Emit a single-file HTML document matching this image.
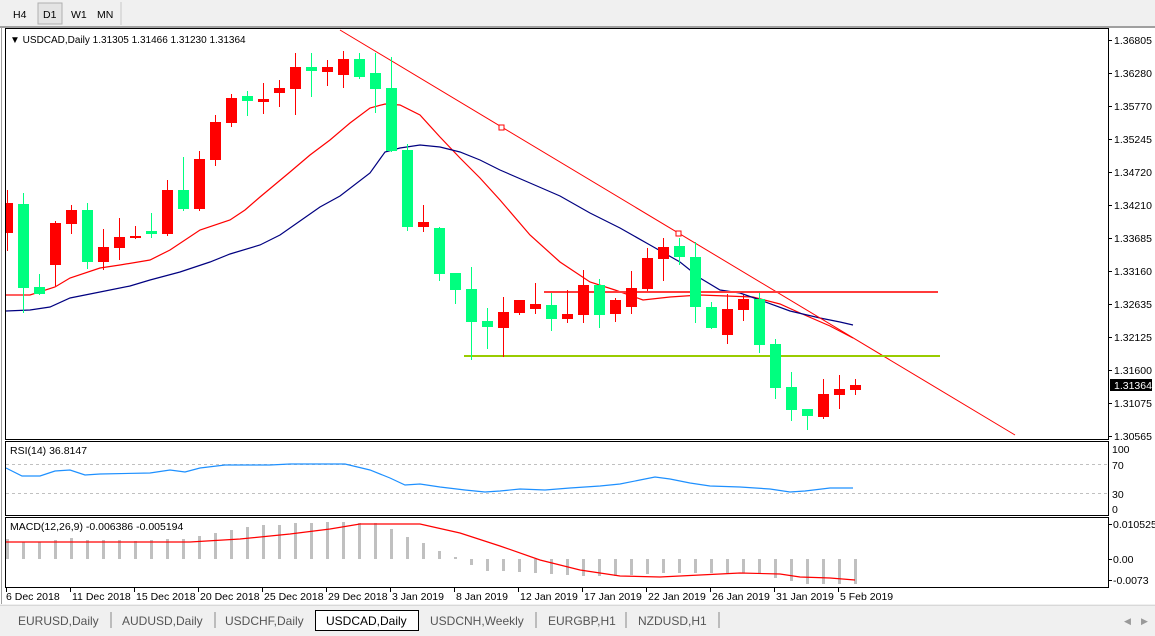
<!DOCTYPE html>
<html><head><meta charset="utf-8"><style>
html,body{margin:0;padding:0;width:1155px;height:636px;overflow:hidden;background:#fff;font-family:"Liberation Sans",sans-serif}
svg text{font-family:"Liberation Sans",sans-serif;font-size:10.5px;fill:#000}
</style></head><body>
<svg id="s" width="1155" height="636" xmlns="http://www.w3.org/2000/svg" shape-rendering="crispEdges">
<defs><clipPath id="cp"><rect x="6" y="29" width="1102" height="560"/></clipPath></defs>
<rect x="0" y="0" width="1155" height="27" fill="#f0f0f0"/>
<rect x="38" y="3" width="24" height="21" fill="#e4e4e4" stroke="#b0b0b0"/>
<line x1="121" y1="2" x2="121" y2="25" stroke="#c8c8c8"/>
<text x="13" y="18">H4</text><text x="43" y="18">D1</text><text x="71" y="18">W1</text><text x="97" y="18">MN</text>
<rect x="0" y="26" width="1155" height="2" fill="#a0a0a0"/>
<line x1="1.5" y1="28" x2="1.5" y2="604" stroke="#a0a0a0"/>
<rect x="5.5" y="28.5" width="1103" height="411" fill="#fff" stroke="#000"/>
<rect x="5.5" y="441.5" width="1103" height="74" fill="#fff" stroke="#000"/>
<rect x="5.5" y="517.5" width="1103" height="70" fill="#fff" stroke="#000"/>
<g id="g" clip-path="url(#cp)"></g>
<g id="g2"></g>
<text x="10" y="43" style="font-size:10px">▼ USDCAD,Daily  1.31305 1.31466 1.31230 1.31364</text>
<text x="10" y="454">RSI(14) 36.8147</text>
<text x="10" y="530">MACD(12,26,9) -0.006386 -0.005194</text>
<rect x="0" y="604" width="1155" height="32" fill="#f0f0f0"/>
<rect x="0" y="605" width="1155" height="1" fill="#d8d8d8"/>
<rect x="315.5" y="610.5" width="103" height="20" fill="#fff" stroke="#000"/>
<text x="18" y="625" style="font-size:12px;fill:#555">EURUSD,Daily</text>
<text x="122" y="625" style="font-size:12px;fill:#555">AUDUSD,Daily</text>
<text x="225" y="625" style="font-size:12px;fill:#555">USDCHF,Daily</text>
<text x="326" y="625" style="font-size:12px;fill:#000">USDCAD,Daily</text>
<text x="430" y="625" style="font-size:12px;fill:#555">USDCNH,Weekly</text>
<text x="548" y="625" style="font-size:12px;fill:#555">EURGBP,H1</text>
<text x="638" y="625" style="font-size:12px;fill:#555">NZDUSD,H1</text>
<g stroke="#888"><line x1="111" y1="612" x2="111" y2="628"/><line x1="215" y1="612" x2="215" y2="628"/><line x1="536" y1="612" x2="536" y2="628"/><line x1="626" y1="612" x2="626" y2="628"/><line x1="719" y1="612" x2="719" y2="628"/></g>
<text x="1124" y="624" style="fill:#999;font-size:9px">◀</text><text x="1141" y="624" style="fill:#999;font-size:9px">▶</text>
</svg>
<script>
var g=document.getElementById('g'),h='';
function L(x1,y1,x2,y2,c,w,e){h+='<line x1="'+x1+'" y1="'+y1+'" x2="'+x2+'" y2="'+y2+'" stroke="'+c+'" stroke-width="'+(w||1)+'" '+(e||'')+'/>';}
function P(pts,c,w){h+='<polyline fill="none" stroke="'+c+'" stroke-width="'+(w||1)+'" shape-rendering="auto" points="'+pts.map(function(p){return p.join(',')}).join(' ')+'"/>';}
var C=[['r',203,233,190,250],['g',204,288,193,312],['g',287,294,274,294],['r',223,265,221,285],['r',210,224,205,233],['g',210,262,203,268],['r',247,262,229,269],['r',237,248,218,259],['r',236,238,226,238],['g',231,234,213,237],['r',190,234,180,235],['g',190,209,157,210],['r',159,209,151,210],['r',122,160,115,165],['r',98,123,94,126],['g',96,101,91,115],['r',99,102,83,113],['r',88,93,80,106],['r',67,89,53,114],['g',67,71,53,96],['r',67,72,60,85],['r',59,75,51,87],['g',59,77,53,78],['g',73,89,53,112],['g',88,151,57,151],['g',150,227,144,230],['r',222,227,205,231],['g',228,274,227,280],['g',273,290,273,303],['g',289,322,267,359],['g',321,327,308,348],['r',312,328,297,356],['r',300,313,300,314],['r',304,309,283,313],['g',305,319,293,330],['r',314,319,290,322],['r',285,315,270,322],['g',285,315,279,327],['r',300,314,298,321],['r',288,307,271,313],['r',258,289,248,290],['r',247,259,238,280],['g',246,257,238,264],['g',257,307,242,322],['g',307,328,302,328],['r',309,335,294,343],['r',299,310,295,320],['g',299,345,293,352],['g',344,388,339,398],['g',387,410,372,420],['g',409,416,409,429],['r',394,417,379,418],['r',389,395,375,408],['r',385,390,379,394]];
var M=[539,542,542,540,538,540,540,540,541,540,539,539,536,533,530,527,525,525,523,523,522,522,523,523,529,537,543,551,557,565,571,571,572,573,574,575,576,576,576,575,574,573,573,573,573,573,573,573,578,581,584,584,584,584];
P([[6,295],[30,295],[55,287],[70,278],[100,268],[120,265],[150,260],[170,250],[200,230],[230,220],[245,210],[260,197],[290,172],[310,155],[330,140],[350,123],[370,108],[385,104],[400,105],[420,115],[440,137],[460,158],[480,178],[500,200],[530,235],[560,262],[590,282],[615,290],[643,300],[670,297],[700,295],[753,297],[780,304],[800,313],[830,326],[853,338]],'#f00',1.2);
P([[6,311],[30,310],[50,307],[70,298],[100,292],[130,286],[150,280],[180,272],[210,262],[230,254],[260,245],[280,235],[300,221],[320,207],[340,196],[370,173],[385,152],[400,148],[420,145],[440,147],[460,152],[480,160],[500,170],[530,183],[560,196],[590,213],[620,228],[650,245],[680,262],[700,278],[720,290],[740,293],[760,300],[790,311],[820,318],[840,322],[853,325]],'#000080',1.2);
P([[340,30],[1015,435]],'#f00',1);
h+='<rect x="499" y="125" width="5" height="5" fill="#fff" stroke="#f00"/><rect x="676" y="231" width="5" height="5" fill="#fff" stroke="#f00"/>';
L(544,292,938,292,'#ff3b3b',2);L(464,356,940,356,'#99cc00',2);
C.forEach(function(c,i){var x=855-16*(C.length-1-i),col=c[0]=='r'?'#ff0000':'#00ff7f';
L(x+0.5,c[3],x+0.5,c[4]+1,col,1);h+='<rect x="'+(x-5)+'" y="'+c[1]+'" width="11" height="'+Math.max(1,c[2]-c[1])+'" fill="'+col+'"/>';
var v=M[i];h+='<rect x="'+(x-1)+'" y="'+Math.min(v,559)+'" width="3" height="'+Math.max(1,Math.abs(v-559))+'" fill="#c0c0c0"/>';});
L(6,464.5,1108,464.5,'#c0c0c0',1,'stroke-dasharray="3,3"');L(6,493.5,1108,493.5,'#c0c0c0',1,'stroke-dasharray="3,3"');
P([[6,468],[22,476],[40,476],[55,471],[70,470],[85,475],[100,474],[150,473],[170,470],[185,472],[200,468],[225,465],[270,465],[290,464],[345,464],[370,470],[390,478],[405,485],[420,484],[440,487],[465,490],[485,492],[500,491],[520,489],[545,490],[570,488],[600,486],[620,484],[640,480],[655,477],[670,479],[690,483],[710,486],[740,487],[770,489],[790,492],[805,491],[830,488],[853,488]],'#1e90ff',1.2);
P([[6,542],[190,542],[240,539],[290,534],[330,529],[360,524],[420,524],[460,533],[500,546],[540,560],[580,570],[620,576],[660,577],[700,575],[740,573],[780,574],[800,577],[830,578],[855,580]],'#f00',1.2);
g.innerHTML=h;h='';
var pr=[['1.36805',40],['1.36280',73],['1.35770',106],['1.35245',139],['1.34720',172],['1.34210',205],['1.33685',238],['1.33160',271],['1.32635',304],['1.32125',337],['1.31600',370],['1.31075',403],['1.30565',436]];
pr.forEach(function(p){L(1108,p[1]+0.5,1112,p[1]+0.5,'#000');h+='<text x="1114" y="'+(p[1]+4)+'">'+p[0]+'</text>';});
h+='<rect x="1110" y="379" width="42" height="12" fill="#000"/><text x="1114" y="389" style="fill:#fff">1.31364</text>';
[['100',449],['70',465],['30',494],['0',509]].forEach(function(p){h+='<text x="1112" y="'+(p[1]+4)+'">'+p[0]+'</text>';});
[['0.010525',524],['0.00',559],['-0.0073',580]].forEach(function(p){L(1108,p[1]+0.5,1112,p[1]+0.5,'#000');h+='<text x="1113" y="'+(p[1]+4)+'">'+p[0]+'</text>';});
var D=['6 Dec 2018','11 Dec 2018','15 Dec 2018','20 Dec 2018','25 Dec 2018','29 Dec 2018','3 Jan 2019','8 Jan 2019','12 Jan 2019','17 Jan 2019','22 Jan 2019','26 Jan 2019','31 Jan 2019','5 Feb 2019'];
D.forEach(function(d,i){var x=6+64*i;L(x+0.5,588,x+0.5,592,'#000');h+='<text x="'+(x+(i?2:0))+'" y="600">'+d+'</text>';});
document.getElementById('g2').innerHTML=h;
</script>
</body></html>
